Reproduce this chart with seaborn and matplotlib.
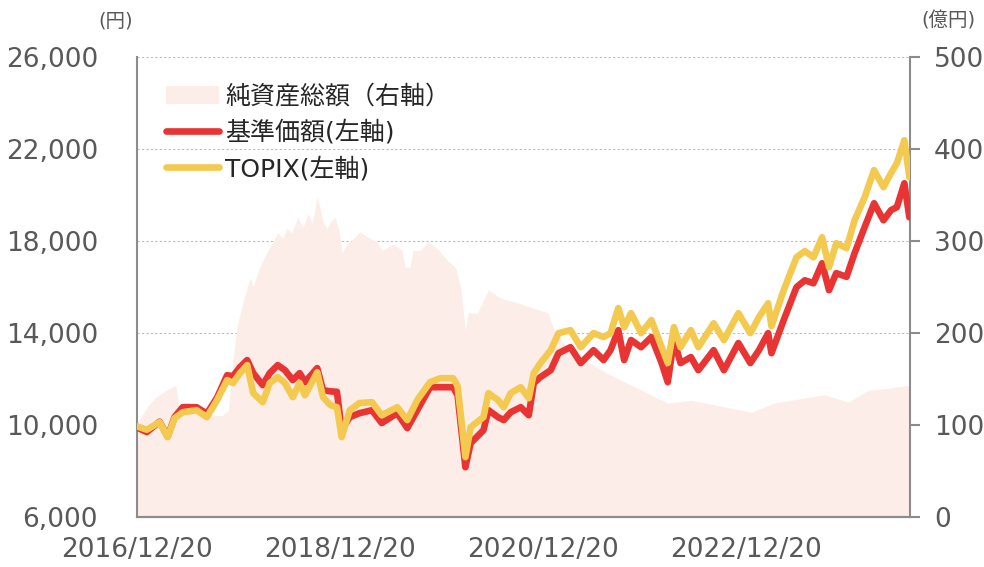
#!/usr/bin/env python3
"""基準価額・TOPIX・純資産総額の推移チャート"""
import pandas as pd
import matplotlib
matplotlib.use('Agg')
import matplotlib.pyplot as plt
import matplotlib.dates as mdates
import matplotlib.ticker as mticker
from matplotlib.patches import Patch
from matplotlib.lines import Line2D
import seaborn as sns

# --- data ---
nav_dates = [
    '2016-12-20', '2017-01-25', '2017-03-12', '2017-04-10', '2017-05-05', '2017-06-03',
    '2017-07-23', '2017-08-29', '2017-10-05', '2017-11-10', '2017-12-01', '2017-12-26',
    '2018-01-21', '2018-02-12', '2018-03-18', '2018-04-12', '2018-05-11', '2018-06-06',
    '2018-07-04', '2018-07-29', '2018-08-17', '2018-09-30', '2018-10-21', '2018-11-16',
    '2018-12-10', '2018-12-27', '2019-01-25', '2019-03-01', '2019-04-15', '2019-05-20',
    '2019-07-15', '2019-08-20', '2019-09-25', '2019-11-10', '2019-12-17', '2020-02-01',
    '2020-02-17', '2020-03-16', '2020-04-04', '2020-05-20', '2020-06-07', '2020-07-11',
    '2020-08-01', '2020-08-26', '2020-10-01', '2020-10-30', '2020-11-17', '2020-12-11',
    '2021-01-17', '2021-02-14', '2021-03-29', '2021-05-05', '2021-06-20', '2021-07-26',
    '2021-08-20', '2021-09-17', '2021-10-08', '2021-11-02', '2021-12-08', '2022-01-14',
    '2022-02-20', '2022-03-14', '2022-04-05', '2022-04-29', '2022-06-05', '2022-07-02',
    '2022-08-26', '2022-10-02', '2022-11-23', '2023-01-05', '2023-02-05', '2023-03-10',
    '2023-03-22', '2023-05-05', '2023-06-20', '2023-07-20', '2023-08-20', '2023-09-20',
    '2023-10-15', '2023-11-10', '2023-12-17', '2024-01-15', '2024-02-20', '2024-03-25',
    '2024-04-28', '2024-05-25', '2024-06-15', '2024-07-12', '2024-07-30', '2024-08-02',
]
nav = [
    9900, 9700, 10150, 9500, 10350, 10780,
    10780, 10500, 11200, 12170, 12130, 12520,
    12830, 12260, 11740, 12260, 12610, 12390,
    11960, 12260, 11870, 12480, 11520, 11470,
    11450, 9780, 10350, 10520, 10650, 10090,
    10520, 9870, 10650, 11650, 11650, 11650,
    11300, 8170, 9220, 9780, 10650, 10350,
    10220, 10560, 10780, 10430, 11830, 12090,
    12390, 13130, 13390, 12700, 13260, 12830,
    13260, 14130, 12830, 13700, 13390, 13830,
    12700, 11870, 13700, 12700, 12960, 12390,
    13260, 12390, 13570, 12700, 13260, 14000,
    13130, 14570, 16000, 16300, 16170, 17040,
    15870, 16610, 16450, 17480, 18610, 19650,
    18910, 19350, 19480, 20520, 19040, 19200,
]
topix = [
    9950, 9800, 10130, 9480, 10300, 10560,
    10650, 10350, 11090, 11960, 11830, 12260,
    12610, 11390, 11000, 11830, 12090, 11830,
    11220, 11830, 11300, 12300, 11220, 10870,
    10780, 9480, 10650, 10960, 11000, 10430,
    10780, 10220, 11090, 11870, 12040, 12040,
    11700, 8610, 9910, 10350, 11390, 11090,
    10780, 11390, 11650, 11170, 12260, 12700,
    13260, 14000, 14130, 13390, 14000, 13830,
    14000, 15090, 14260, 14870, 14000, 14570,
    13390, 12700, 14260, 13390, 14130, 13390,
    14430, 13700, 14870, 14000, 14700, 15300,
    14300, 15870, 17300, 17570, 17300, 18170,
    16870, 17910, 17700, 18910, 19910, 21090,
    20350, 20960, 21390, 22390, 20780, 21000,
]

aum_dates = [
    '2016-12-20', '2017-01-10', '2017-02-01', '2017-03-01', '2017-04-01', '2017-05-01',
    '2017-05-10', '2017-05-20', '2017-07-01', '2017-09-01', '2017-10-20', '2017-11-15',
    '2017-12-01', '2017-12-15', '2018-01-03', '2018-01-21', '2018-02-01', '2018-02-12',
    '2018-02-27', '2018-03-14', '2018-04-01', '2018-04-23', '2018-05-11', '2018-05-29',
    '2018-06-13', '2018-07-01', '2018-07-22', '2018-08-10', '2018-08-28', '2018-09-12',
    '2018-09-30', '2018-10-10', '2018-10-21', '2018-11-05', '2018-11-16', '2018-12-04',
    '2018-12-18', '2018-12-29', '2019-01-09', '2019-02-07', '2019-03-03', '2019-03-28',
    '2019-05-03', '2019-05-21', '2019-06-30', '2019-08-01', '2019-08-12', '2019-08-30',
    '2019-09-10', '2019-10-05', '2019-11-03', '2019-12-06', '2020-01-12', '2020-02-10',
    '2020-02-28', '2020-03-16', '2020-03-26', '2020-04-28', '2020-06-07', '2020-07-20',
    '2020-09-20', '2020-11-07', '2021-01-07', '2021-01-29', '2021-04-10', '2021-06-10',
    '2021-08-10', '2021-09-26', '2021-12-08', '2022-03-14', '2022-06-05', '2022-10-02',
    '2023-01-08', '2023-04-01', '2023-07-08', '2023-09-29', '2023-12-23', '2024-03-05',
    '2024-05-17', '2024-07-20', '2024-08-02',
]
aum = [
    102, 112, 122, 131, 137, 142,
    143, 118, 114, 112, 110, 116,
    170, 207, 230, 250, 260, 250,
    265, 276, 287, 299, 309, 303,
    314, 309, 326, 315, 330, 319,
    348, 337, 321, 314, 321, 326,
    310, 287, 294, 303, 310, 305,
    299, 290, 297, 290, 272, 272,
    290, 290, 299, 292, 279, 271,
    250, 203, 222, 222, 247, 238,
    233, 228, 222, 203, 174, 167,
    156, 149, 138, 124, 127, 120,
    114, 124, 129, 133, 125, 138,
    140, 143, 143,
]

xtick_dates = ['2016-12-20', '2018-12-20', '2020-12-20', '2022-12-20']
legend_labels = ['純資産総額（右軸）', '基準価額(左軸)', 'TOPIX(左軸)']

AREA_C = '#FCEDE8'
RED_C = '#E93434'
YEL_C = '#F3CA4F'
GREY = '#595959'
SPINE = '#8C8C8C'

df_lines = pd.DataFrame({'date': pd.to_datetime(nav_dates), 'nav': nav, 'topix': topix})
df_aum = pd.DataFrame({'date': pd.to_datetime(aum_dates), 'aum': aum})

sns.set_theme(style='white')
plt.rcParams['font.family'] = ['DejaVu Sans', 'Noto Sans CJK JP']

fig = plt.figure(figsize=(9.84, 5.67), dpi=100)
rect = [0.139, 0.088, 0.786, 0.811]
ax2 = fig.add_axes(rect)                 # right axis (area), underneath
ax = fig.add_axes(rect, sharex=ax2)      # left axis (lines), on top
ax.patch.set_visible(False)

# area: net assets (right axis)
ax2.fill_between(df_aum['date'], 0, df_aum['aum'], color=AREA_C, lw=0, zorder=2)
ax2.set_ylim(0, 500)
ax2.set_yticks([0, 100, 200, 300, 400, 500])
ax2.yaxis.tick_right()
ax2.set_axisbelow(True)
ax2.grid(axis='y', color='#BBBBBB', ls=(0, (2, 2)), lw=0.8, zorder=0)
ax2.grid(axis='x', visible=False)
ax2.tick_params(axis='y', direction='out', length=7, width=1.5, color=SPINE,
                labelsize=19, labelcolor=GREY, pad=10)

# lines: NAV and TOPIX (left axis)
sns.lineplot(data=df_lines, x='date', y='nav', ax=ax, color=RED_C, lw=4.8, zorder=3)
sns.lineplot(data=df_lines, x='date', y='topix', ax=ax, color=YEL_C, lw=4.8, zorder=4)
ax.set_ylim(6000, 26000)
ax.set_yticks([6000, 10000, 14000, 18000, 22000, 26000])
ax.yaxis.set_major_formatter(mticker.FuncFormatter(lambda v, p: f'{int(v):,}'))
ax.tick_params(axis='y', direction='in', length=7, width=1.5, color=SPINE,
               labelsize=19, labelcolor=GREY, pad=28)
for a in (ax, ax2):
    a.set_xlabel('')
    a.set_ylabel('')

ax.set_xlim(pd.Timestamp('2016-12-20'), pd.Timestamp('2024-08-02'))
ax.set_xticks(pd.to_datetime(xtick_dates))
ax.xaxis.set_major_formatter(mdates.DateFormatter('%Y/%m/%d'))
ax.tick_params(axis='x', length=0, labelsize=19, labelcolor=GREY, pad=14)
ax2.tick_params(axis='x', labelbottom=False, length=0)

for a in (ax, ax2):
    a.spines['top'].set_visible(False)
    for s in ('left', 'right', 'bottom'):
        a.spines[s].set_color(SPINE)
        a.spines[s].set_linewidth(1.5)
ax.spines['right'].set_visible(False)
ax2.spines['left'].set_visible(False)

# unit labels
fig.text(116 / 984, 1 - 21 / 567, '(円)', ha='center', va='center', fontsize=14, color=GREY)
fig.text(948 / 984, 1 - 21 / 567, '(億円)', ha='center', va='center', fontsize=14, color=GREY)

handles = [
    Patch(facecolor=AREA_C, edgecolor='none'),
    Line2D([], [], color=RED_C, lw=4.8),
    Line2D([], [], color=YEL_C, lw=4.8),
]
ax.legend(handles, legend_labels, loc='upper left', bbox_to_anchor=(0.038, 0.94), frameon=False,
          fontsize=18, handlelength=2.1, handletextpad=0.25, labelspacing=0.45,
          borderpad=0, borderaxespad=0)

fig.savefig('out.png', dpi=100)
